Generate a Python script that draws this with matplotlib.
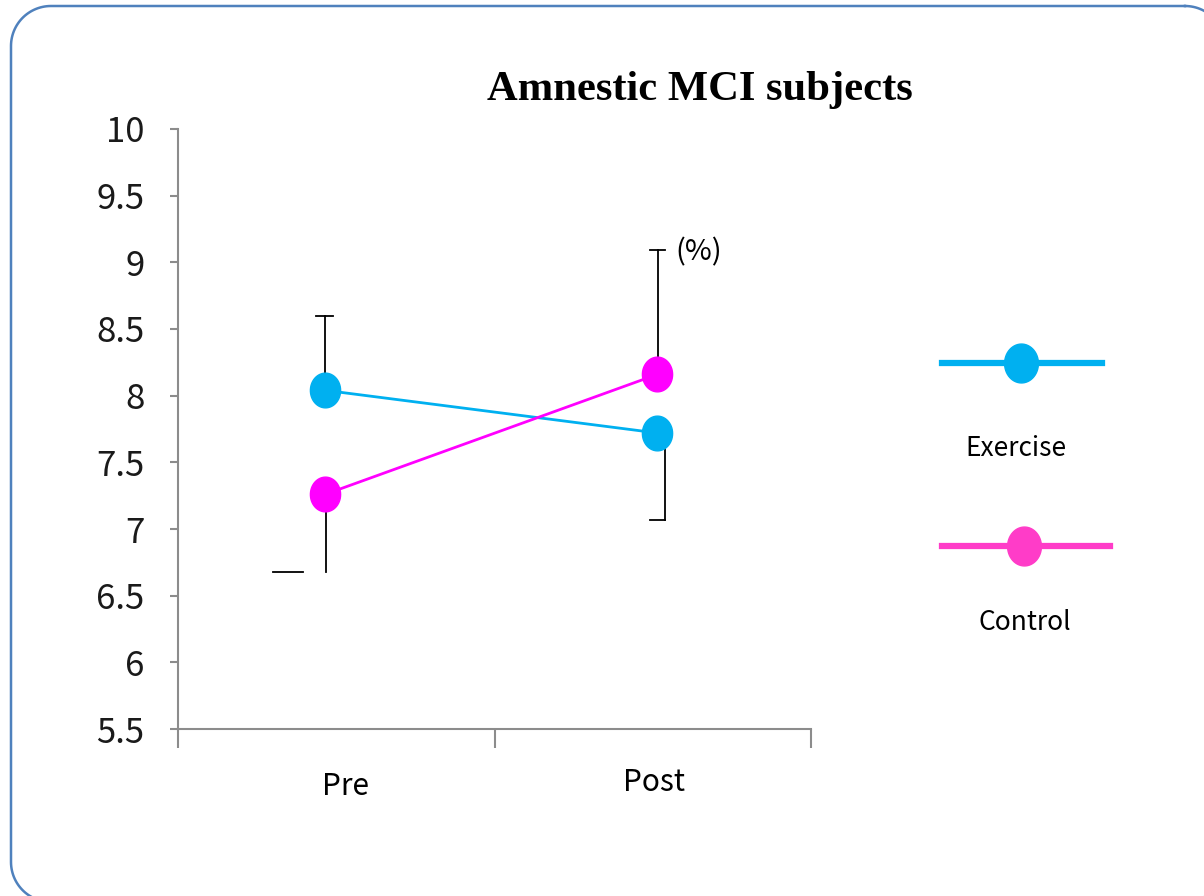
import matplotlib
matplotlib.use("Agg")
import matplotlib.pyplot as plt
import numpy as np
from matplotlib.path import Path
from matplotlib.lines import Line2D
import matplotlib.transforms as mtransforms

# ---- data ----
categories = ["Pre", "Post"]
exercise_mean = [8.04, 7.72]
exercise_err_up = [0.56, 0.0]
exercise_err_down = [0.0, 0.65]
control_mean = [7.26, 8.16]
control_err_up = [0.0, 0.93]
control_err_down = [0.58, 0.0]
series_names = ["Exercise", "Control"]
yticks = [5.5, 6, 6.5, 7, 7.5, 8, 8.5, 9, 9.5, 10]
ytick_labels = ["5.5", "6", "6.5", "7", "7.5", "8", "8.5", "9", "9.5", "10"]

# ---- style ----
C_EX = "#00B0F0"
C_CT = "#FF00FF"
C_CT_LEG = "#FF3CC8"
TICK_FONT = ["Noto Sans CJK JP", "DejaVu Sans"]

fig = plt.figure(figsize=(12.04, 8.96), dpi=100)
W, H = 1204, 896

# background axes in pixel units for the rounded border
bg = fig.add_axes([0, 0, 1, 1], zorder=-10)
bg.set_xlim(0, W)
bg.set_ylim(H, 0)
bg.axis("off")


def rounded_rect(x0, y0, x1, y1, r, n=30):
    pts = []
    corners = [(x1 - r, y0 + r, -90, 0), (x1 - r, y1 - r, 0, 90),
               (x0 + r, y1 - r, 90, 180), (x0 + r, y0 + r, 180, 270)]
    for cx, cy, a0, a1 in corners:
        a = np.radians(np.linspace(a0, a1, n))
        pts.append(np.column_stack([cx + r * np.cos(a), cy + r * np.sin(a)]))
    pts = np.vstack(pts)
    return np.vstack([pts, pts[:1]])


rr = rounded_rect(11, 6, 1225, 902, 40)
bg.plot(rr[:, 0], rr[:, 1], color="#4F81BD", lw=1.8, clip_on=False)

ax = fig.add_axes([178 / W, (H - 729) / H, (811 - 178) / W, 600 / H])
ax.set_xlim(0, 2)
ax.set_ylim(5.5, 10)
ax.patch.set_alpha(0)
for s in ["top", "right"]:
    ax.spines[s].set_visible(False)
for s in ["left", "bottom"]:
    ax.spines[s].set_color("#8c8c8c")
    ax.spines[s].set_linewidth(1.5)

ax.set_yticks(yticks)
ax.set_yticklabels(ytick_labels, fontsize=25, family=TICK_FONT, color="#1a1a1a")
ax.tick_params(axis="y", direction="out", length=6, width=1.5, color="#8c8c8c", pad=18)
ax.set_xticks([0, 1, 2])
ax.set_xticklabels([])
ax.tick_params(axis="x", direction="out", length=14, width=1.5, color="#8c8c8c")

# x positions of categories (slightly off centre as in source)
xpos = np.array([0.465, 1.515])
label_pos = [0.53, 1.505]
for lx, lab, yoff in zip(label_pos, categories, [-57, -53]):
    ax.annotate(lab, xy=(lx, 5.5), xytext=(0, yoff), textcoords="offset pixels",
                ha="center", va="center", fontsize=21.5, family=TICK_FONT)

# ellipse marker
t = np.linspace(0, 2 * np.pi, 60)
ell = Path(np.column_stack([0.87 * np.cos(t), np.sin(t)]), closed=True)

ax.plot(xpos, exercise_mean, color=C_EX, lw=2, zorder=3)
ax.plot(xpos, control_mean, color=C_CT, lw=2, zorder=3)
ax.plot(xpos, exercise_mean, ls="none", marker=ell, ms=25, color=C_EX, mec=C_EX, zorder=4)
ax.plot(xpos, control_mean, ls="none", marker=ell, ms=25, color=C_CT, mec=C_CT, zorder=4)


def errbar(x, y, up, down, stem_dx=0, cap=(-8, 8)):
    tr = mtransforms.offset_copy(ax.transData, fig=fig, x=stem_dx, y=0, units="dots")
    yy = y + up if up > 0 else y - down
    ax.plot([x, x], [y, yy], color="black", lw=1.3, transform=tr, zorder=2)
    c0 = mtransforms.offset_copy(ax.transData, fig=fig, x=cap[0], y=0, units="dots")
    c1 = mtransforms.offset_copy(ax.transData, fig=fig, x=cap[1], y=0, units="dots")
    p0 = c0.transform((x, yy))
    p1 = c1.transform((x, yy))
    fig.lines.append(Line2D([p0[0] / W, p1[0] / W], [p0[1] / H, p1[1] / H],
                            transform=fig.transFigure, color="black", lw=1.3))


errbar(xpos[0], exercise_mean[0], exercise_err_up[0], exercise_err_down[0], 0, (-9, 8))
errbar(xpos[1], exercise_mean[1], exercise_err_up[1], exercise_err_down[1], 8, (-7, 8))
errbar(xpos[0], control_mean[0], control_err_up[0], control_err_down[0], 1, (-52, -22))
errbar(xpos[1], control_mean[1], control_err_up[1], control_err_down[1], 1, (-7, 8))

ax.annotate("(%)", xy=(xpos[1], control_mean[1] + control_err_up[1]), xytext=(41, -2),
            textcoords="offset pixels", ha="center", va="center", fontsize=21, family=TICK_FONT)

# title
fig.text(700 / W, 1 - 90 / H, "Amnestic MCI subjects", ha="center", va="center",
         fontsize=30.7, fontweight="bold", family="Liberation Serif")

# legend (custom, as in source)
for yline, col, name, ytext, xtext in [(363, C_EX, series_names[0], 448, 1016),
                                        (546, C_CT_LEG, series_names[1], 623, 1025)]:
    x1 = 1102 if col == C_EX else 1110
    fig.lines.append(Line2D([942 / W, x1 / W], [1 - yline / H, 1 - yline / H],
                            transform=fig.transFigure, color=col, lw=4.5))
    fig.lines.append(Line2D([(1021 if col == C_EX else 1024) / W], [1 - yline / H],
                            transform=fig.transFigure, color=col, marker=ell, ms=28,
                            mec=col, ls="none"))
    fig.text(xtext / W, 1 - ytext / H, name, ha="center", va="center", fontsize=19,
             family=TICK_FONT)

fig.savefig("out.png", dpi=100)
